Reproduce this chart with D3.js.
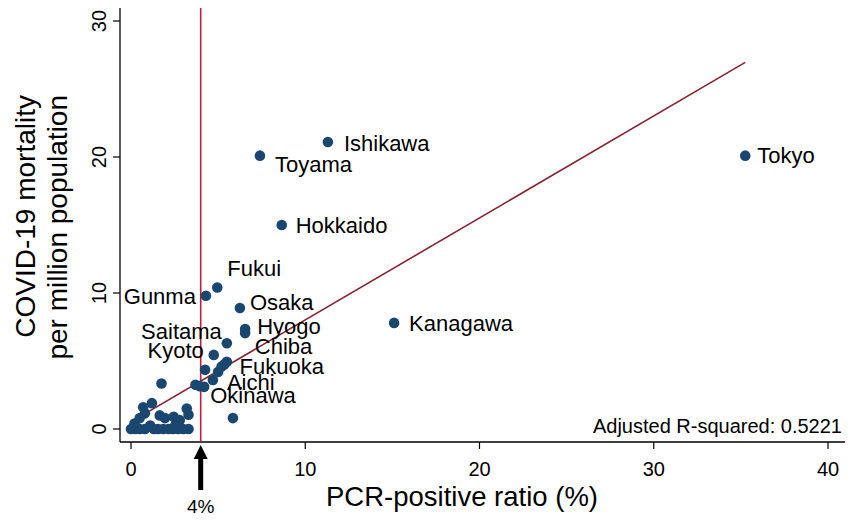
<!DOCTYPE html>
<html>
<head>
<meta charset="utf-8">
<script src="https://cdn.jsdelivr.net/npm/d3@7"></script>
<style>
  body { margin: 0; background: #fff; }
  text { font-family: "Liberation Sans", Arial, sans-serif; fill: #000; }
</style>
</head>
<body>
<div id="chart-area"></div>
<script>
// Data
const prefNames = ['Tokyo', 'Ishikawa', 'Toyama', 'Hokkaido', 'Kanagawa', 'Fukui', 'Gunma', 'Osaka',
  'Hyogo', 'Saitama', 'Kyoto', 'Chiba', 'Fukuoka', 'Aichi', 'Okinawa',
  '', '', '', '', '', '', '', '', '', '', '', '', '', '', '', '', '', '', '',
  '', '', '', '', '', '', '', '', '', '', '', '', '', ''];
const pcrRatio = [35.25, 11.3, 7.4, 8.65, 15.1, 4.95, 4.3, 6.25,
  6.55, 5.5, 4.75, 5.5, 5.2, 4.7, 4.2,
  6.55, 5.0, 4.25, 3.7, 3.95, 1.75, 5.85, 1.2, 0.7, 0.8, 0.5, 0.2, 1.65, 1.95, 2.45, 2.8, 3.2, 3.3, 5.35,
  0, 0.25, 0.5, 0.8, 1.3, 1.55, 1.85, 2.15, 2.4, 2.7, 3.0, 3.3, 2.55, 1.1];
const mortality = [20.1, 21.1, 20.1, 15.0, 7.8, 10.4, 9.8, 8.9,
  7.35, 6.3, 5.45, 4.95, 4.6, 3.6, 3.1,
  7.05, 4.2, 4.35, 3.25, 3.15, 3.35, 0.8, 1.9, 1.6, 1.15, 0.8, 0.4, 1.0, 0.8, 0.9, 0.65, 1.5, 1.05, 4.75,
  0, 0, 0, 0, 0, 0, 0, 0, 0, 0, 0, 0, 0.3, 0.25];

const xTicks = [0, 10, 20, 30, 40];
const yTicks = [0, 10, 20, 30];
const fitIntercept = 0.52;
const fitSlope = 0.75;
const cutoff = 4;
const r2Text = 'Adjusted R-squared: 0.5221';

const W = 855, H = 520;
const svg = d3.select('#chart-area').append('svg')
  .attr('width', W).attr('height', H);

const x = d3.scaleLinear().domain([0, 40]).range([131, 828]);
const y = d3.scaleLinear().domain([0, 30]).range([429, 21]);

const axisX0 = 120, axisY0 = 442;

// label placement: [dx, dy (to text centre), anchor]
const labelPos = {
  Tokyo: [12, 0, 'start'], Ishikawa: [16, 1, 'start'], Toyama: [15, 9, 'start'],
  Hokkaido: [14, 0, 'start'], Kanagawa: [15, 0, 'start'], Fukui: [10, -19, 'start'],
  Gunma: [-10, 0, 'end'], Osaka: [10, -6, 'start'], Hyogo: [12, -3, 'start'],
  Saitama: [-5, -12, 'end'], Kyoto: [-10, -5, 'end'], Chiba: [28, -15, 'start'],
  Fukuoka: [18, 0, 'start'], Aichi: [14, 2, 'start'], Okinawa: [6, 8, 'start']
};

const points = prefNames.map((n, i) => ({ name: n, px: pcrRatio[i], m: mortality[i] }));

// Axes lines
svg.append('line')
  .attr('x1', axisX0).attr('x2', axisX0).attr('y1', 8).attr('y2', axisY0)
  .attr('stroke', '#000').attr('stroke-width', 1.3);
svg.append('line')
  .attr('x1', axisX0).attr('x2', 845).attr('y1', axisY0).attr('y2', axisY0)
  .attr('stroke', '#000').attr('stroke-width', 1.3);

// Y ticks
const yt = svg.append('g').selectAll('g').data(yTicks).enter().append('g');
yt.append('line')
  .attr('x1', axisX0 - 7).attr('x2', axisX0)
  .attr('y1', d => y(d)).attr('y2', d => y(d))
  .attr('stroke', '#000').attr('stroke-width', 1.2);
yt.append('text')
  .attr('transform', d => 'translate(106,' + y(d) + ') rotate(-90)')
  .attr('text-anchor', 'middle')
  .attr('font-size', '20px')
  .text(d => d);

// X ticks
const xt = svg.append('g').selectAll('g').data(xTicks).enter().append('g');
xt.append('line')
  .attr('x1', d => x(d)).attr('x2', d => x(d))
  .attr('y1', axisY0).attr('y2', axisY0 + 7)
  .attr('stroke', '#000').attr('stroke-width', 1.2);
xt.append('text')
  .attr('x', d => x(d)).attr('y', 476)
  .attr('text-anchor', 'middle')
  .attr('font-size', '20px')
  .text(d => d);

// Axis titles
svg.append('text')
  .attr('x', 462).attr('y', 506)
  .attr('text-anchor', 'middle')
  .attr('font-size', '27.5px')
  .text('PCR-positive ratio (%)');

const yTitle = svg.append('text')
  .attr('transform', 'rotate(-90)')
  .attr('text-anchor', 'end')
  .attr('font-size', '28px');
yTitle.append('tspan').attr('x', -95).attr('y', 35).text('COVID-19 mortality');
yTitle.append('tspan').attr('x', -95).attr('y', 67).text('per million population');

// 4% cutoff line
svg.append('line')
  .attr('x1', x(cutoff)).attr('x2', x(cutoff)).attr('y1', 8).attr('y2', axisY0)
  .attr('stroke', '#be1e3c').attr('stroke-width', 1.6);

// fitted line over the data range
const xr = d3.extent(pcrRatio);
svg.append('line')
  .attr('x1', x(xr[0])).attr('y1', y(fitIntercept + fitSlope * xr[0]))
  .attr('x2', x(xr[1])).attr('y2', y(fitIntercept + fitSlope * xr[1]))
  .attr('stroke', '#862431').attr('stroke-width', 1.6);

// points
svg.append('g').selectAll('circle').data(points).enter().append('circle')
  .attr('cx', d => x(d.px)).attr('cy', d => y(d.m))
  .attr('r', 5.3)
  .attr('fill', '#1a476f');

// labels
svg.append('g').selectAll('text').data(points.filter(d => d.name)).enter().append('text')
  .attr('x', d => x(d.px) + labelPos[d.name][0])
  .attr('y', d => y(d.m) + labelPos[d.name][1] + 7.8)
  .attr('text-anchor', d => labelPos[d.name][2])
  .attr('font-size', '22px')
  .text(d => d.name);

// R-squared note
svg.append('text')
  .attr('x', 842).attr('y', 433)
  .attr('text-anchor', 'end')
  .attr('font-size', '20px')
  .text(r2Text);

// arrow and 4% label
const ax = x(cutoff);
svg.append('line')
  .attr('x1', ax).attr('x2', ax).attr('y1', 456).attr('y2', 490)
  .attr('stroke', '#000').attr('stroke-width', 5);
svg.append('path')
  .attr('d', d3.line()([[ax, 445], [ax - 7, 459], [ax + 7, 459]]) + 'Z')
  .attr('fill', '#000');
svg.append('text')
  .attr('x', ax).attr('y', 513)
  .attr('text-anchor', 'middle')
  .attr('font-size', '19px')
  .text(cutoff + '%');
</script>
</body>
</html>
